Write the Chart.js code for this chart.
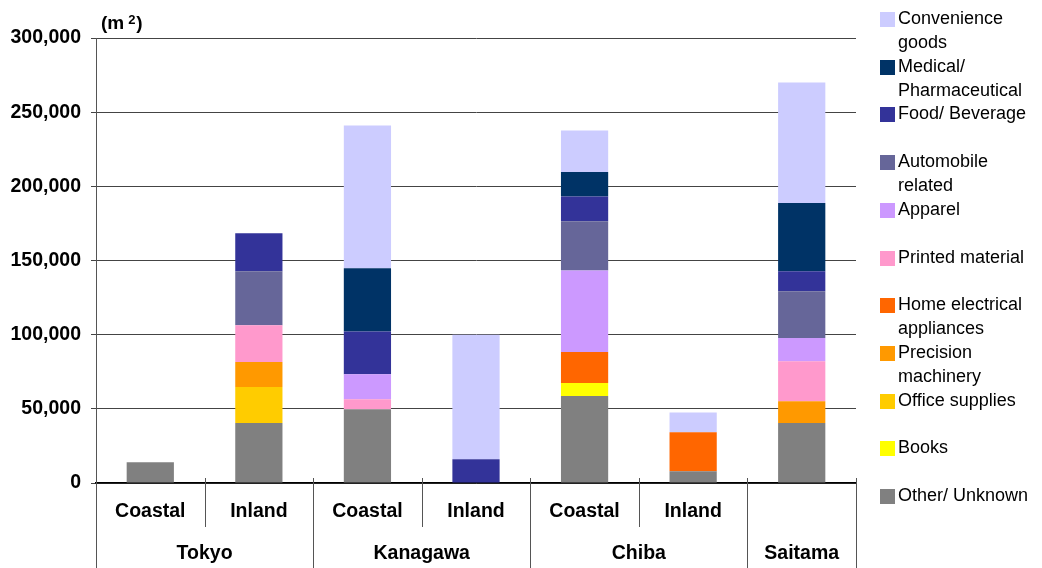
<!DOCTYPE html>
<html>
<head>
<meta charset="utf-8">
<script src="https://cdn.jsdelivr.net/npm/chart.js@4/dist/chart.umd.min.js"></script>
<style>
  html, body { margin: 0; padding: 0; background: #fff; }
</style>
</head>
<body>
<canvas id="chart" width="1042" height="568"></canvas>
<script>
// Categories (two-level x axis)
const regions = ['Tokyo', 'Tokyo', 'Kanagawa', 'Kanagawa', 'Chiba', 'Chiba', 'Saitama'];
const zones = ['Coastal', 'Inland', 'Coastal', 'Inland', 'Coastal', 'Inland', ''];

// Floor area by goods type (m2), stacked bottom to top
const other       = [14000, 40400, 49700, 0, 58600, 7900, 40400];
const books       = [0, 0, 0, 0, 8800, 0, 0];
const office      = [0, 24300, 0, 0, 0, 0, 0];
const precision   = [0, 16800, 0, 0, 0, 0, 14700];
const homeElec    = [0, 0, 0, 0, 20900, 26300, 0];
const printed     = [0, 24800, 6700, 0, 0, 0, 26900];
const apparel     = [0, 0, 16900, 0, 55000, 0, 15700];
const automobile  = [0, 36400, 0, 0, 33100, 0, 31500];
const food        = [0, 25600, 28900, 16000, 16800, 0, 13500];
const medical     = [0, 0, 42500, 0, 16400, 0, 46000];
const convenience = [0, 0, 96300, 84000, 28100, 13400, 81300];

const seriesNames = ['Other/ Unknown', 'Books', 'Office supplies', 'Precision\nmachinery',
  'Home electrical\nappliances', 'Printed material', 'Apparel', 'Automobile\nrelated',
  'Food/ Beverage', 'Medical/\nPharmaceutical', 'Convenience\ngoods'];
const seriesColors = ['#808080', '#FFFF00', '#FFCC00', '#FF9900', '#FF6600', '#FF99CC',
  '#CC99FF', '#666699', '#333399', '#003366', '#CCCCFF'];
const seriesData = [other, books, office, precision, homeElec, printed, apparel,
  automobile, food, medical, convenience];

const yMax = 300000, yStep = 50000;
const FONT = "'Liberation Sans', Arial, sans-serif";

// Custom x labels, dividers, unit label and legend
const extras = {
  id: 'extras',
  afterDraw(c) {
    const ctx = c.ctx, x = c.scales.x, area = c.chartArea;
    const n = regions.length;
    const half = (x.getPixelForValue(1) - x.getPixelForValue(0)) / 2;
    const edge = i => (i < n ? x.getPixelForValue(i) - half : x.getPixelForValue(n - 1) + half);
    ctx.save();

    // dividers
    ctx.strokeStyle = '#555';
    ctx.lineWidth = 1;
    for (let i = 0; i <= n; i++) {
      const isGroup = i === 0 || i === n || regions[i] !== regions[i - 1];
      const px = Math.round(edge(i)) + 0.5;
      ctx.beginPath();
      ctx.moveTo(px, area.bottom - 5);
      ctx.lineTo(px, isGroup ? c.height : 527);
      ctx.stroke();
    }

    ctx.fillStyle = '#000';
    ctx.textAlign = 'center';
    ctx.textBaseline = 'middle';
    ctx.font = 'bold 19.5px ' + FONT;
    zones.forEach((z, i) => {
      if (z) ctx.fillText(z, x.getPixelForValue(i), 512);
    });
    let start = 0;
    for (let i = 1; i <= n; i++) {
      if (i === n || regions[i] !== regions[start]) {
        ctx.fillText(regions[start], (edge(start) + edge(i)) / 2, 554);
        start = i;
      }
    }

    // unit label
    ctx.textAlign = 'left';
    ctx.font = 'bold 19px ' + FONT;
    ctx.fillText('(m', 101, 24);
    const mw = ctx.measureText('(m').width;
    ctx.font = 'bold 13px ' + FONT;
    ctx.fillText('2', 101 + mw + 4, 20);
    ctx.font = 'bold 19px ' + FONT;
    ctx.fillText(')', 101 + mw + 12, 24);

    // legend, top item is the top of the stack
    ctx.font = '18px ' + FONT;
    ctx.textBaseline = 'alphabetic';
    for (let k = 0; k < seriesNames.length; k++) {
      const idx = seriesNames.length - 1 - k;
      const top = 12 + k * 47.7;
      ctx.fillStyle = seriesColors[idx];
      ctx.fillRect(880, Math.round(top), 15, 15);
      ctx.fillStyle = '#000';
      seriesNames[idx].split('\n').forEach((line, j) => {
        ctx.fillText(line, 898, top + 12 + j * 24);
      });
    }
    ctx.restore();
  }
};

new Chart(document.getElementById('chart').getContext('2d'), {
  type: 'bar',
  data: {
    labels: zones.map((z, i) => regions[i] + ' ' + z),
    datasets: seriesData.map((d, i) => ({
      label: seriesNames[i],
      data: d,
      backgroundColor: seriesColors[i],
      borderWidth: 0,
      categoryPercentage: 1,
      barPercentage: 0.435
    }))
  },
  options: {
    responsive: false,
    animation: false,
    layout: { padding: { top: 38, right: 186, bottom: 85, left: 0 } },
    plugins: {
      legend: { display: false },
      tooltip: { enabled: false }
    },
    scales: {
      x: {
        stacked: true,
        ticks: { display: false },
        grid: { display: false },
        border: { display: true, color: '#000', width: 1.5 },
        afterFit: s => { s.height = 0; }
      },
      y: {
        stacked: true,
        min: 0,
        max: yMax,
        ticks: {
          stepSize: yStep,
          color: '#000',
          padding: 10,
          font: { family: FONT, size: 19.5, weight: 'bold' },
          callback: v => v.toLocaleString('en-US')
        },
        grid: { color: '#444', lineWidth: 1, tickLength: 5 },
        border: { display: true, color: '#555', width: 1 },
        afterFit: s => { s.width = 96; }
      }
    }
  },
  plugins: [extras]
});
</script>
</body>
</html>
